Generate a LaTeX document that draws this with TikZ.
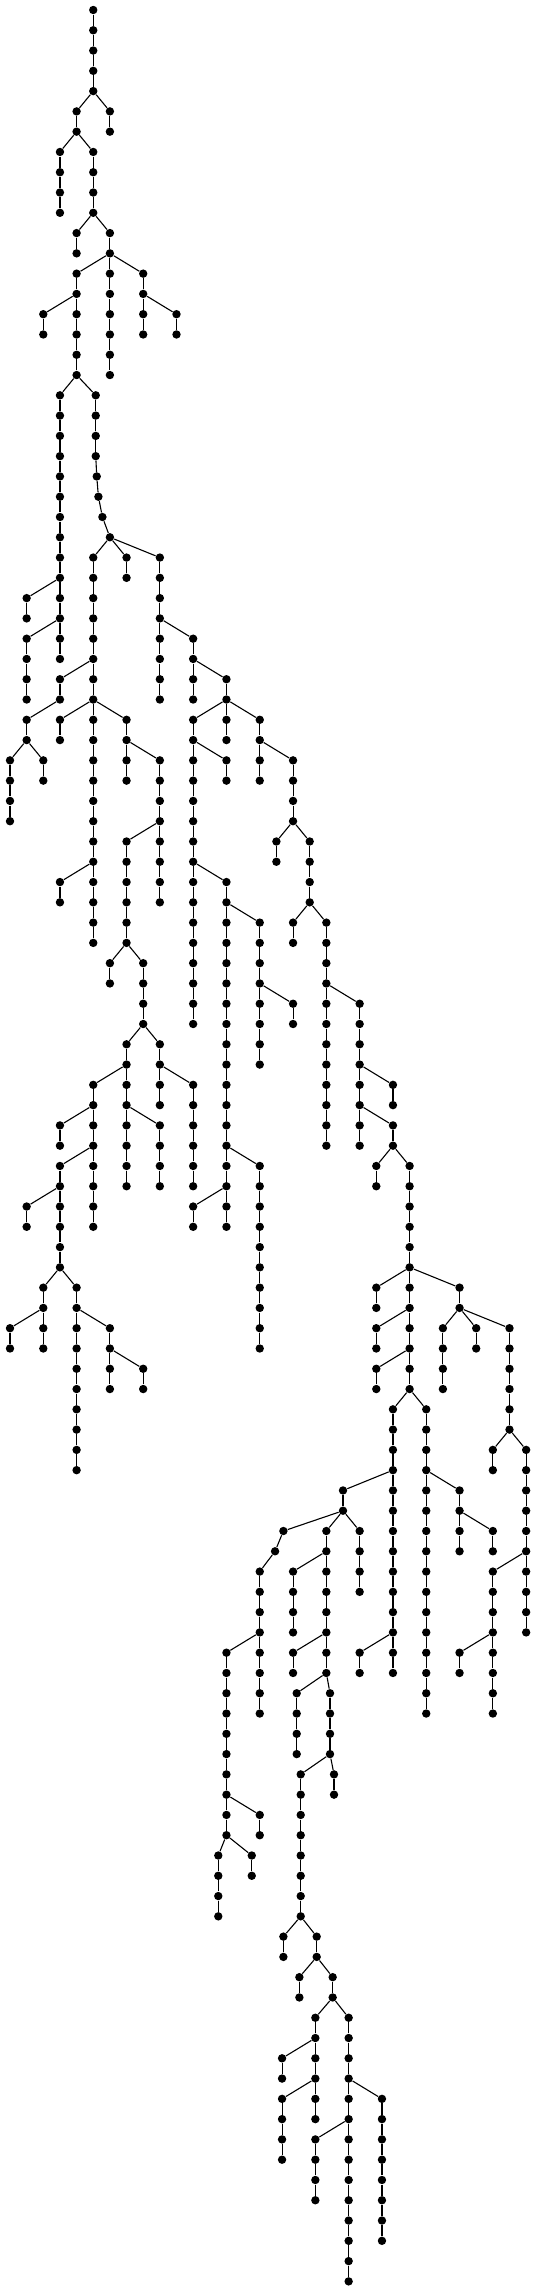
\documentclass[tikz,border=0pt]{standalone}
\usepackage{tikz}
\usetikzlibrary{positioning}

\newcommand{\treechain}[5]{%
  \foreach \lev in {#4,...,#5}{\node[dot] (#1-\lev) at (#3,\lev) {};}
  \draw[edge] (#2) -- (#1-#4);
  \foreach \lev in {#4,...,#5}{%
    \ifnum\lev>#4\relax
      \pgfmathtruncatemacro{\up}{\lev-1}%
      \draw[edge] (#1-\up) -- (#1-\lev);
    \fi}%
}

\begin{document}
\begin{tikzpicture}[
  x=8.325pt, y=-10.14pt,
  dot/.style={circle, fill=black, draw=none, inner sep=0pt, minimum size=4.2pt},
  edge/.style={line width=0.55pt, black}
]
\useasboundingbox (-0.6006,-0.4931) rectangle (31.592,112.426);

\node[dot] (t-0) at (5,0) {};
\treechain{t}{t-0}{5}{1}{4}
\treechain{a}{t-4}{4}{5}{6}
\treechain{b}{t-4}{6}{5}{6}
\treechain{c}{a-6}{3}{7}{10}
\treechain{d}{a-6}{5}{7}{10}
\treechain{e}{d-10}{4}{11}{12}
\treechain{f}{d-10}{6}{11}{12}
\treechain{g}{f-12}{4}{13}{18}
\treechain{h}{g-14}{2}{15}{16}
\treechain{i}{f-12}{6}{13}{18}
\treechain{j}{f-12}{8}{13}{16}
\treechain{k}{j-14}{10}{15}{16}
\treechain{l}{g-18}{3}{19}{32}
\treechain{m}{l-28}{1}{29}{30}
\treechain{n}{l-30}{1}{31}{34}
\treechain{o}{g-18}{5.15}{19}{22}
\treechain{oa}{o-22}{5.21}{23}{23}
\treechain{ob}{oa-23}{5.31}{24}{24}
\treechain{oc}{ob-24}{5.55}{25}{25}
\treechain{u}{oc-25}{6}{26}{26}
\treechain{v}{u-26}{5}{27}{34}
\treechain{w}{u-26}{7}{27}{28}
\treechain{x}{u-26}{9}{27}{34}
\treechain{y}{x-30}{11}{31}{34}
\treechain{z}{y-32}{13}{33}{34}
\treechain{A}{v-32}{3}{33}{34}
\treechain{B}{A-34}{1}{35}{36}
\treechain{C}{B-36}{0}{37}{40}
\treechain{D}{B-36}{2}{37}{38}
\treechain{E}{v-34}{3}{35}{36}
\treechain{F}{v-34}{5}{35}{46}
\treechain{G}{F-42}{3}{43}{44}
\treechain{H}{v-34}{7}{35}{36}
\treechain{I}{H-36}{7}{37}{38}
\treechain{J}{H-36}{9}{37}{44}
\treechain{K}{J-40}{7}{41}{46}
\treechain{L}{K-46}{6}{47}{48}
\treechain{M}{K-46}{8}{47}{50}
\treechain{N}{M-50}{7}{51}{58}
\treechain{O}{M-50}{9}{51}{54}
\treechain{P}{O-52}{11}{53}{58}
\treechain{Q}{N-52}{5}{53}{60}
\treechain{R}{Q-54}{3}{55}{56}
\treechain{S}{N-54}{9}{55}{58}
\treechain{T}{Q-56}{3}{57}{62}
\treechain{U}{T-58}{1}{59}{60}
\treechain{V}{T-62}{2}{63}{66}
\treechain{W}{V-64}{0}{65}{66}
\treechain{X}{T-62}{4}{63}{72}
\treechain{Y}{X-64}{6}{65}{68}
\treechain{Z}{Y-66}{8}{67}{68}
\treechain{aa}{z-34}{11}{35}{50}
\treechain{ab}{aa-36}{13}{37}{38}
\treechain{ac}{aa-42}{13}{43}{60}
\treechain{ad}{ac-44}{15}{45}{52}
\treechain{ae}{ad-48}{17}{49}{50}
\treechain{af}{ac-56}{15}{57}{66}
\treechain{ag}{ac-58}{11}{59}{60}
\treechain{ah}{z-34}{13}{35}{36}
\treechain{ai}{z-34}{15}{35}{38}
\treechain{aj}{ai-36}{17}{37}{40}
\treechain{ak}{aj-40}{16}{41}{42}
\treechain{al}{aj-40}{18}{41}{44}
\treechain{am}{al-44}{17}{45}{46}
\treechain{an}{al-44}{19}{45}{56}
\treechain{ao}{an-48}{21}{49}{56}
\treechain{ap}{ao-52}{23}{53}{54}
\treechain{aq}{ao-54}{23}{55}{56}
\treechain{ar}{aq-56}{22}{57}{58}
\treechain{as}{aq-56}{24}{57}{62}
\treechain{at}{as-62}{22}{63}{64}
\treechain{au}{as-62}{24}{63}{68}
\treechain{av}{au-64}{22}{65}{66}
\treechain{aw}{au-66}{22}{67}{68}
\treechain{ax}{as-62}{27}{63}{64}
\treechain{ay}{ax-64}{26}{65}{68}
\treechain{az}{ax-64}{28}{65}{66}
\treechain{ba}{ax-64}{30}{65}{70}
\treechain{bb}{ba-70}{29}{71}{72}
\treechain{bc}{ba-70}{31}{71}{80}
\treechain{bd}{bc-76}{29}{77}{84}
\treechain{be}{bd-80}{27}{81}{82}
\treechain{bf}{au-68}{23}{69}{82}
\treechain{bg}{bf-80}{21}{81}{82}
\treechain{bh}{au-68}{25}{69}{84}
\treechain{bi}{bh-72}{27}{73}{76}
\treechain{bj}{bi-74}{29}{75}{76}
\treechain{bk}{bf-72}{20}{73}{74}
\treechain{bl}{bk-74}{21}{75}{78}
\treechain{bm}{bk-74}{19}{75}{82}
\treechain{bn}{bm-76}{17}{77}{80}
\treechain{bo}{bm-80}{17}{81}{82}
\treechain{bp}{bm-82}{17.22}{83}{86}
\treechain{bq}{bm-82}{19.22}{83}{86}
\treechain{br}{bq-86}{19.46}{87}{88}
\treechain{bs}{bq-86}{17.46}{87}{94}
\treechain{bt}{bk-74}{16.42}{75}{75}
\treechain{bu}{bt-75}{15.92}{76}{76}
\treechain{bv}{bu-76}{15}{77}{84}
\treechain{bw}{bv-80}{13}{81}{90}
\treechain{bx}{bw-88}{15}{89}{90}
\treechain{by}{bw-90}{12.51}{91}{94}
\treechain{bz}{bw-90}{14.52}{91}{92}
\treechain{ca}{bs-94}{16.42}{95}{96}
\treechain{cb}{bs-94}{18.42}{95}{96}
\treechain{cc}{cb-96}{17.38}{97}{98}
\treechain{cd}{cb-96}{19.38}{97}{98}
\treechain{ce}{cd-98}{18.34}{99}{104}
\treechain{cf}{ce-100}{16.34}{101}{102}
\treechain{cg}{ce-102}{16.34}{103}{106}
\treechain{ch}{cd-98}{20.34}{99}{112}
\treechain{ci}{ch-102}{22.34}{103}{110}
\treechain{cj}{ch-104}{18.34}{105}{108}
\end{tikzpicture}
\end{document}
